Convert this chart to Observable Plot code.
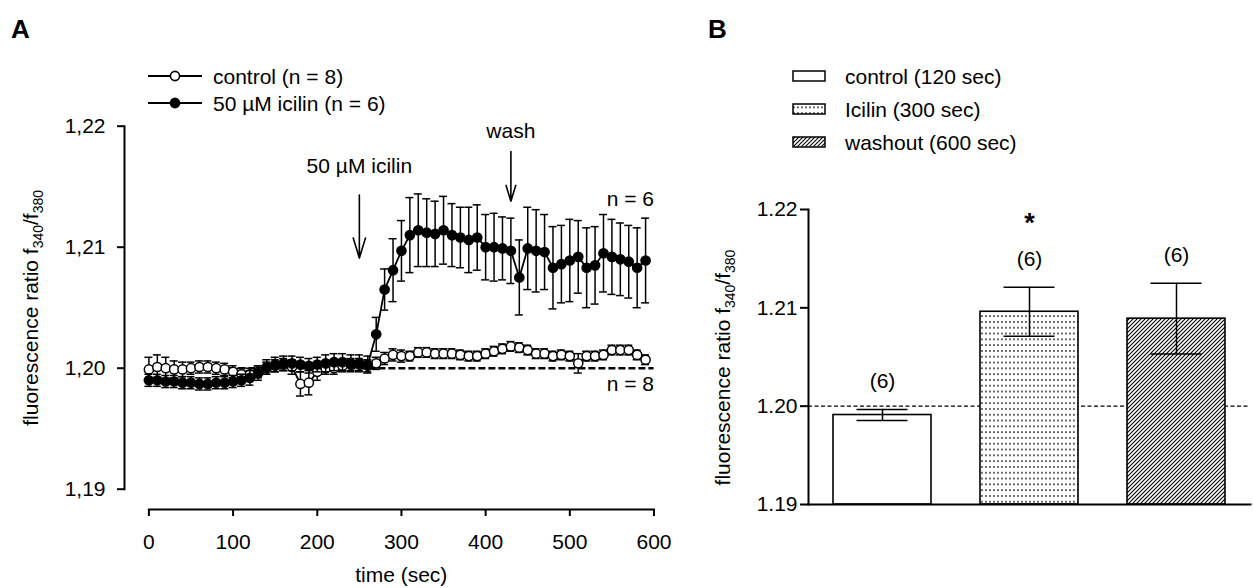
<!DOCTYPE html>
<html><head><meta charset="utf-8">
<script src="https://cdn.jsdelivr.net/npm/d3@7"></script>
<script src="https://cdn.jsdelivr.net/npm/@observablehq/plot@0.6"></script>
<style>
body{margin:0;background:#fff;}
#wrap{position:relative;width:1253px;height:588px;overflow:hidden;font-family:"Liberation Sans",Arial,sans-serif;}
#a{position:absolute;left:0;top:0;}
#b{position:absolute;left:700px;top:0;}
#overlay{position:absolute;left:0;top:0;pointer-events:none;}
</style></head><body>
<div id="wrap"><div id="a"></div><div id="b"></div><svg id="overlay" width="1253" height="588"></svg></div>
<script>
// ---------- data ----------
const times = [0,10,20,30,40,50,60,70,80,90,100,110,120,130,140,150,160,170,180,190,200,210,220,230,240,250,260,270,280,290,300,310,320,330,340,350,360,370,380,390,400,410,420,430,440,450,460,470,480,490,500,510,520,530,540,550,560,570,580,590];
const controlMean = [1.1999,1.2001,1.2000,1.1999,1.1999,1.2000,1.2001,1.2001,1.2000,1.1999,1.1997,1.1995,1.1995,1.1997,1.2000,1.2002,1.2003,1.2001,1.1987,1.1988,1.1997,1.2000,1.2000,1.2002,1.2003,1.2003,1.2002,1.2004,1.2008,1.2011,1.2010,1.2010,1.2013,1.2013,1.2012,1.2012,1.2012,1.2011,1.2010,1.2010,1.2012,1.2014,1.2016,1.2018,1.2017,1.2015,1.2012,1.2012,1.2010,1.2011,1.2010,1.2004,1.2010,1.2010,1.2011,1.2015,1.2015,1.2015,1.2011,1.2007];
const controlSem = [0.0010,0.0010,0.0009,0.0007,0.0006,0.0005,0.0005,0.0005,0.0005,0.0005,0.0005,0.0005,0.0005,0.0005,0.0005,0.0005,0.0005,0.0006,0.0010,0.0010,0.0007,0.0005,0.0005,0.0005,0.0005,0.0005,0.0005,0.0005,0.0005,0.0005,0.0005,0.0004,0.0004,0.0004,0.0004,0.0004,0.0004,0.0004,0.0004,0.0004,0.0004,0.0004,0.0004,0.0004,0.0004,0.0004,0.0004,0.0004,0.0004,0.0004,0.0004,0.0008,0.0004,0.0004,0.0004,0.0004,0.0004,0.0004,0.0004,0.0004];
const icilinMean = [1.1990,1.1990,1.1989,1.1989,1.1988,1.1988,1.1987,1.1987,1.1988,1.1988,1.1989,1.1990,1.1992,1.1996,1.2001,1.2003,1.2004,1.2004,1.2003,1.2002,1.2003,1.2004,1.2005,1.2005,1.2004,1.2004,1.2003,1.2028,1.2065,1.2081,1.2097,1.2110,1.2114,1.2112,1.2111,1.2114,1.2110,1.2108,1.2106,1.2108,1.2100,1.2100,1.2099,1.2097,1.2075,1.2099,1.2097,1.2096,1.2083,1.2086,1.2089,1.2092,1.2083,1.2085,1.2095,1.2092,1.2090,1.2088,1.2083,1.2089];
const icilinSem = [0.0005,0.0005,0.0005,0.0005,0.0005,0.0005,0.0005,0.0005,0.0005,0.0005,0.0005,0.0005,0.0006,0.0006,0.0006,0.0006,0.0006,0.0006,0.0006,0.0006,0.0006,0.0007,0.0007,0.0007,0.0007,0.0007,0.0007,0.0014,0.0017,0.0026,0.0025,0.0031,0.0030,0.0028,0.0027,0.0028,0.0026,0.0025,0.0027,0.0027,0.0027,0.0028,0.0026,0.0027,0.0031,0.0034,0.0034,0.0031,0.0034,0.0032,0.0034,0.0030,0.0033,0.0032,0.0032,0.0031,0.0030,0.0030,0.0033,0.0035];
const seriesNames = ["control (n = 8)", "50 \u00b5M icilin (n = 6)"];
const timeTicks = [0,100,200,300,400,500,600];
const ratioTicks = [1.19,1.20,1.21,1.22];
const baselineRatio = [1.20];

const arrowLabels = ["50 \u00b5M icilin", "wash"];
const arrowTimes = [250, 430];
const arrowLabelRatio = [1.2167, 1.2196];
const arrowTopRatio = [1.2143, 1.2179];
const arrowTipRatio = [1.2091, 1.2138];
const nLabels = ["n = 6", "n = 8"];
const nLabelRatio = [1.2140, 1.19865];

const barCategories = ["control (120 sec)", "Icilin (300 sec)", "washout (600 sec)"];
const barMeans = [1.1991, 1.2096, 1.2089];
const barSems = [0.00056, 0.0025, 0.0036];
const barN = ["(6)", "(6)", "(6)"];
const barSignificance = ["", "*", ""];

const yLabelText = "fluorescence ratio f340/f380";

// ---------- helpers ----------
const FONT = '"Liberation Sans", Arial, Helvetica, sans-serif';
const ctrl = times.map((t,i)=>({t, v: controlMean[i], e: controlSem[i]}));
const ici = times.map((t,i)=>({t, v: icilinMean[i], e: icilinSem[i]}));

function seriesMarks(data, fill){
  return [
    Plot.line(data, {x:"t", y:"v", stroke:"black", strokeWidth:1.8}),
    Plot.ruleX(data, {x:"t", y1:d=>d.v-d.e, y2:d=>d.v+d.e, stroke:"black", strokeWidth:1.5}),
    Plot.ruleY(data, {y:d=>d.v+d.e, x1:"t", x2:"t", insetLeft:-4, insetRight:-4, stroke:"black", strokeWidth:1.5}),
    Plot.ruleY(data, {y:d=>d.v-d.e, x1:"t", x2:"t", insetLeft:-4, insetRight:-4, stroke:"black", strokeWidth:1.5}),
    Plot.dot(data, {x:"t", y:"v", r:4.6, fill, stroke:"black", strokeWidth:1.5})
  ];
}

function subscriptLabel(svg){
  d3.select(svg).selectAll("text").filter(function(){return this.textContent === yLabelText;})
    .each(function(){
      const t = d3.select(this);
      t.text(null);
      t.append("tspan").text("fluorescence ratio f");
      t.append("tspan").attr("font-size","14px").attr("dy","5").text("340");
      t.append("tspan").attr("dy","-5").text("/f");
      t.append("tspan").attr("font-size","14px").attr("dy","5").text("380");
    });
}

// ---------- panel A ----------
const annA = arrowTimes.map((t,i)=>({t, label: arrowLabels[i], ly: arrowLabelRatio[i], y1: arrowTopRatio[i], y2: arrowTipRatio[i]}));
const nA = nLabels.map((s,i)=>({s, y: nLabelRatio[i]}));

const plotA = Plot.plot({
  width: 680, height: 588,
  marginLeft: 124, marginRight: 26.5, marginTop: 125.7, marginBottom: 79,
  x: {domain: [timeTicks[0], timeTicks[timeTicks.length-1]], range: [148.4, 653.5]},
  y: {domain: [ratioTicks[0], ratioTicks[ratioTicks.length-1]], range: [488.7, 125.7]},
  style: {fontFamily: FONT, fontSize: "21px", background: "white", color: "black", overflow: "visible"},
  marks: [
    Plot.frame({anchor: "left", insetBottom: 20.3, strokeWidth: 2, stroke: "black"}),
    Plot.frame({anchor: "bottom", insetLeft: 24.4, strokeWidth: 2, stroke: "black"}),
    Plot.axisY({ticks: ratioTicks, tickSize: 7, tickPadding: 12, strokeWidth: 2, label: null,
      tickFormat: d => d.toFixed(2).replace(".", ",")}),
    Plot.axisX({ticks: timeTicks, tickSize: 7, tickPadding: 18, strokeWidth: 2, label: null, tickFormat: d => String(d)}),
    Plot.ruleY(baselineRatio, {x1: timeTicks[0], x2: timeTicks[timeTicks.length-1], strokeDasharray: "7,3", strokeWidth: 2.5}),
    ...seriesMarks(ctrl, "white"),
    ...seriesMarks(ici, "black"),
    Plot.arrow(annA, {x1: "t", x2: "t", y1: "y1", y2: "y2", stroke: "black", strokeWidth: 1.6, headLength: 26, headAngle: 34}),
    Plot.text(annA, {x: "t", y: "ly", text: "label", fontSize: 21}),
    Plot.text(nA, {x: timeTicks[timeTicks.length-1], y: "y", text: "s", textAnchor: "end", fontSize: 21}),
    Plot.text(["time (sec)"], {frameAnchor: "bottom", textAnchor: "middle", lineAnchor: "middle", dx: 12, dy: 66, fontSize: 21}),
    Plot.text([yLabelText], {frameAnchor: "left", textAnchor: "middle", lineAnchor: "middle", rotate: -90, dx: -93.7, dy: -10, fontSize: 21})
  ]
});
subscriptLabel(plotA);
document.getElementById("a").appendChild(plotA);

// ---------- panel B ----------
const bars = barCategories.map((c,i)=>({c, v: barMeans[i], e: barSems[i], n: barN[i], s: barSignificance[i]}));
const plotB = Plot.plot({
  width: 553, height: 588,
  marginLeft: 108, marginRight: 3, marginTop: 209, marginBottom: 84,
  x: {domain: barCategories, paddingInner: 0.336, paddingOuter: 0.166, axis: null},
  y: {domain: [ratioTicks[0], ratioTicks[ratioTicks.length-1]]},
  color: {type: "ordinal", domain: barCategories, range: ["white", "url(#dots)", "url(#hatch)"]},
  style: {fontFamily: FONT, fontSize: "21px", background: "white", color: "black", overflow: "visible"},
  marks: [
    Plot.ruleY(baselineRatio, {strokeDasharray: "4,2.5", strokeWidth: 1.2}),
    Plot.barY(bars, {x: "c", y1: ratioTicks[0], y2: "v", fill: "c", stroke: "black", strokeWidth: 1.6}),
    Plot.ruleX(bars, {x: "c", y1: d=>d.v-d.e, y2: d=>d.v+d.e, stroke: "black", strokeWidth: 1.5}),
    Plot.tickY(bars, {x: "c", y: d=>d.v+d.e, insetLeft: 23.5, insetRight: 23.5, stroke: "black", strokeWidth: 1.5}),
    Plot.tickY(bars, {x: "c", y: d=>d.v-d.e, insetLeft: 23.5, insetRight: 23.5, stroke: "black", strokeWidth: 1.5}),
    Plot.text(bars, {x: "c", y: d=>d.v+d.e, text: "n", dy: -28, fontSize: 21}),
    Plot.text(bars, {x: "c", y: d=>d.v+d.e, text: "s", dy: -64, fontSize: 27, fontWeight: "bold"}),
    Plot.frame({anchor: "left", strokeWidth: 2, stroke: "black"}),
    Plot.frame({anchor: "bottom", strokeWidth: 2, stroke: "black"}),
    Plot.axisY({ticks: ratioTicks, tickSize: 8, tickPadding: 3, strokeWidth: 2, label: null, tickFormat: d => d.toFixed(2)}),
    Plot.text([yLabelText], {frameAnchor: "left", textAnchor: "middle", lineAnchor: "middle", rotate: -90, dx: -85.5, dy: 10.5, fontSize: 21})
  ]
});
subscriptLabel(plotB);
document.getElementById("b").appendChild(plotB);

// ---------- overlay: patterns, legends, panel letters ----------
const ov = d3.select("#overlay").style("font-family", FONT);
const defs = ov.append("defs");
const pd = defs.append("pattern").attr("id","dots").attr("patternUnits","userSpaceOnUse").attr("width",4).attr("height",5.8);
pd.append("rect").attr("width",4).attr("height",5.8).attr("fill","white");
pd.append("rect").attr("x",1.2).attr("y",2.2).attr("width",1.5).attr("height",1.5).attr("fill","black");
const ph = defs.append("pattern").attr("id","hatch").attr("patternUnits","userSpaceOnUse").attr("width",4).attr("height",4);
ph.append("rect").attr("width",4).attr("height",4).attr("fill","white");
ph.append("path").attr("d","M-1,1 l2,-2 M0,4 l4,-4 M3,5 l2,-2").attr("stroke","black").attr("stroke-width",1.1);

ov.append("text").attr("x",11).attr("y",38).attr("font-size",26).attr("font-weight","bold").text("A");
ov.append("text").attr("x",708).attr("y",38).attr("font-size",26).attr("font-weight","bold").text("B");

const legA = ov.append("g");
const legAFill = ["white","black"];
const legAY = [76, 103];
seriesNames.forEach((name,i)=>{
  const y = legAY[i];
  legA.append("line").attr("x1",148).attr("x2",202).attr("y1",y).attr("y2",y).attr("stroke","black").attr("stroke-width",2);
  legA.append("circle").attr("cx",175).attr("cy",y).attr("r",4.6).attr("fill",legAFill[i]).attr("stroke","black").attr("stroke-width",1.6);
  legA.append("text").attr("x",213).attr("y",y+7.5).attr("font-size",21).text(name);
});

const legB = ov.append("g");
const legBFill = ["white","url(#dots)","url(#hatch)"];
const legBY = [76, 109, 142];
barCategories.forEach((name,i)=>{
  const y = legBY[i];
  legB.append("rect").attr("x",793).attr("y",y-5).attr("width",32).attr("height",10).attr("fill",legBFill[i]).attr("stroke","black").attr("stroke-width",1.5);
  legB.append("text").attr("x",845).attr("y",y+7.5).attr("font-size",21).text(name);
});
</script>
</body></html>
